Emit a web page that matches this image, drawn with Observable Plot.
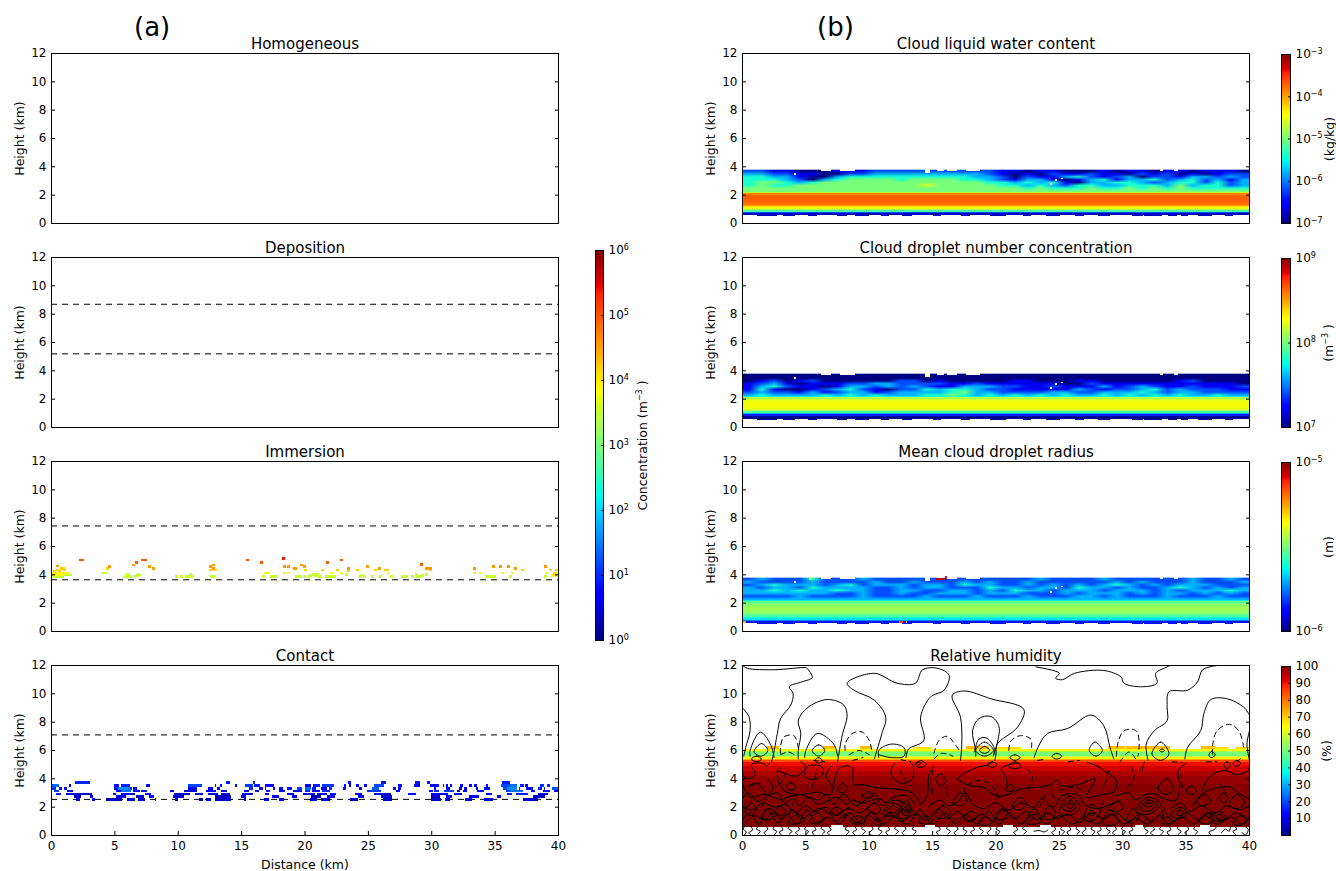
<!DOCTYPE html>
<html><head><meta charset="utf-8">
<script src="https://cdn.jsdelivr.net/npm/d3@7"></script>
<script src="https://cdn.jsdelivr.net/npm/@observablehq/plot@0.6"></script>
<style>
html,body{margin:0;background:#fff}
#fig{position:relative;width:1336px;height:871px;overflow:hidden;font-family:"DejaVu Sans",sans-serif;color:#000}
#fig>div{position:absolute}
#fig svg{display:block;overflow:visible;background:transparent;max-width:none!important}
.tag{font-size:26px;line-height:30px}
</style></head><body><div id="fig"></div>
<script>
// ---------- tick labels ----------
const heightTicks=[0,2,4,6,8,10,12];
const distanceTicks=[0,5,10,15,20,25,30,35,40];
const concTicks=[1,10,100,1e3,1e4,1e5,1e6];
const concLabels=["10⁰","10¹","10²","10³","10⁴","10⁵","10⁶"];
const lwcTicks=[1e-7,1e-6,1e-5,1e-4,1e-3];
const lwcLabels=["10⁻⁷","10⁻⁶","10⁻⁵","10⁻⁴","10⁻³"];
const numTicks=[1e7,1e8,1e9];
const numLabels=["10⁷","10⁸","10⁹"];
const radTicks=[1e-6,1e-5];
const radLabels=["10⁻⁶","10⁻⁵"];
const rhTicks=[10,20,30,40,50,60,70,80,90,100];

// ---------- dashed levels (km) ----------
const depositionLevels=[8.7,5.2];
const immersionLevels=[7.45,3.65];
const contactLevels=[7.1,2.55];

// ---------- immersion cells [x km, height km] by concentration ----------
const immersionLime=[[.1,3.85],[.3,3.85],[.5,3.85],[.7,3.85],[.9,3.85],[1.1,3.95],[1.3,3.95],[1.5,3.95],[4.1,4.1],[4.3,4.1],[5.9,3.85],[6.0,4.0],[6.1,3.85],[6.3,3.85],[6.6,3.85],[6.8,3.9],[6.9,4.0],[7.0,3.95],[9.9,3.85],[10.3,3.85],[10.7,3.85],[10.9,3.85],[11.0,4.0],[11.2,3.85],[12.65,3.85],[12.9,3.85],[16.75,3.85],[17.4,3.85],[17.6,3.85],[17.8,3.85],[19.35,3.85],[19.5,3.85],[19.65,3.85],[20.0,3.85],[20.4,3.85],[20.5,3.9],[20.7,4.0],[20.9,3.9],[21.0,4.0],[21.2,3.85],[21.3,3.85],[21.7,3.85],[21.9,3.85],[22.1,3.85],[22.4,3.85],[23.3,4.0],[24.4,3.85],[24.5,3.95],[24.7,3.85],[25.4,3.85],[26,3.85],[26.9,3.85],[27.7,3.85],[27.9,3.85],[28.05,3.85],[28.5,3.85],[28.8,4.0],[28.9,3.85],[29.1,3.85],[29.3,3.9],[29.6,4.0],[34.35,3.85],[34.6,3.85],[34.8,3.85],[35.0,3.85],[36.25,3.85],[39,3.85]];
const immersionYellow=[[.1,4.1],[.3,4.1],[.5,4.1],[.8,4.1],[1.0,4.1],[1.2,4.1],[.2,3.95],[.4,3.95],[.6,4.0],[.8,3.95],[.9,3.95],[1.4,4.1],[16.9,4.1],[17.15,4.1],[18.45,4.1],[18.75,4.1],[22.1,4.1],[22.95,4.1],[26.65,4.1],[33.4,4.1],[33.9,4.1],[35.6,4.1],[36.4,4.1],[39.1,4.1],[39.6,3.9],[39.8,4.1],[39.9,3.9]];
const immersionGold=[[.5,4.3],[.8,4.4],[1.1,4.3],[.3,4.25],[1.0,4.4],[.7,4.25],[4.45,4.4],[12.6,4.3],[12.95,4.3],[20.05,4.3],[21.4,4.3],[22.6,4.3],[23.45,4.25],[24.2,4.3],[25.6,4.3],[26.55,4.3],[26.4,4.3],[29.95,4.3],[37.2,4.3],[39.4,4.3],[39.9,4.3],[39.7,4.0]];
const immersionOrange=[[.55,4.6],[4.6,4.55],[6.5,4.65],[7.8,4.55],[8.1,4.4],[12.6,4.55],[12.85,4.65],[12.85,4.4],[18.45,4.55],[18.7,4.55],[19.25,4.4],[19.75,4.65],[20,4.55],[23.45,4.4],[25,4.55],[25.9,4.4],[29.6,4.4],[29.9,4.4],[33.4,4.4],[34.9,4.55],[35.5,4.55],[36.1,4.55],[36.65,4.4],[39,4.55]];
const immersionRed=[[2.35,5.0],[2.5,5.0],[6.75,4.85],[7.25,5.0],[7.45,5.0],[15.5,5.0],[16.6,4.85],[21.8,4.85],[22.9,5.0],[29.25,4.7]];
const immersionDeepRed=[[18.35,5.1]];

// ---------- contact runs [x1 km, x2 km, concentration], one list per height row ----------
const contact37=[[1.9,3.1,9],[13.8,14.1,8],[15.9,16.1,8],[23.4,23.7,6],[26,26.4,8],[28.7,29.1,8],[29.7,29.9,8],[35.6,36.2,8]];
const contact35=[[0,.6,22],[1.4,1.6,6],[5,5.4,6],[5.5,6.2,9],[7.5,7.8,5],[10.8,11.9,14],[12.9,13,6],[13.3,13.5,6],[14.5,14.7,6],[15.3,15.9,12],[16,16.5,8],[16.9,17.6,6],[20,20.5,6],[20.7,21.2,8],[21.4,22.3,12],[23.1,23.3,6],[23.5,23.7,6],[24.1,24.3,6],[24.7,24.9,6],[25.5,26.3,15],[27.4,27.7,6],[28.6,29.1,6],[29.9,30.6,6],[30.9,31,6],[31.2,31.3,6],[31.5,31.6,6],[32.3,32.5,6],[33,33.2,6],[33.4,33.6,6],[34.3,34.5,6],[35.5,36.2,14],[36.2,36.8,25],[37,37.3,8],[37.4,37.6,6],[38.6,38.9,10],[39.1,39.4,10]];
const contact33=[[0,.4,12],[.6,.9,6],[1,1.3,6],[5,5.3,6],[5.3,6.2,35],[6.2,6.4,10],[6.5,6.8,6],[10.8,11.5,5],[12.4,12.8,5],[13.1,13.3,5],[15.6,15.9,10],[16.4,16.7,6],[16.9,17,6],[17.5,17.7,6],[18,18.3,6],[18.6,19,6],[19.4,19.8,14],[20,20.5,22],[20.6,20.9,8],[21.3,21.8,5],[21.9,22.2,10],[23,23.3,6],[24.3,24.5,6],[25.3,25.9,20],[27,27.2,5],[27.4,27.6,5],[30.2,30.4,6],[31.2,31.5,6],[32.2,32.4,6],[32.6,32.8,6],[33.5,33.7,6],[34.2,34.6,6],[35.7,36,15],[36,36.8,40],[36.9,37,8],[37.5,38,6],[38.4,38.7,8],[38.9,39,8],[39.5,40,18]];
const contact31=[[.2,.6,14],[1.3,1.7,5],[5.1,5.5,5],[5.5,6.3,25],[6.5,7,6],[7.1,7.6,8],[9.4,9.7,3],[10.5,11.5,3],[12.2,13,4],[13.4,13.9,4],[15.2,15.6,5],[16.1,16.4,6],[17,17.3,6],[18,18.5,6],[19.1,19.8,6],[20,20.4,10],[20.6,21.2,6],[21.4,22,10],[24.9,26,12],[27.2,27.5,5],[29.8,30.1,6],[30.2,30.6,10],[31,31.8,12],[32,32.3,5],[32.5,32.8,5],[33.6,34.2,5],[35.9,36.2,12],[36.2,37.2,25],[37.9,38.2,5],[38.8,39.4,6],[39.7,40,6]];
const contact29=[[.4,.8,8],[1.2,2,3],[2,3.2,2.5],[4.9,5.1,6],[5.5,6.2,6],[6.2,6.6,3],[7.4,7.9,6],[9.7,11,2.5],[11.4,12,2.5],[12.4,13.2,3],[13.4,14.1,2.5],[15.1,15.9,3],[16.9,17.2,5],[18.6,19.2,5],[19.9,20.8,3],[21,21.8,3],[22,22.5,5],[24,24.5,4],[25.5,26.8,3],[28.2,28.8,5],[30,31.3,4],[31.8,32.4,4],[34.3,34.8,5],[36,36.4,8],[36.7,37.6,8],[38.4,39.2,3]];
const contact27=[[1.8,2.4,2.5],[3.1,3.3,5],[5.1,5.9,3],[6.7,7.3,2.5],[7.7,8.1,4],[9.6,9.9,2.5],[9.9,10.5,2.5],[12.9,13.7,2.2],[13.7,14.2,2.2],[15,15.4,3],[17.4,18,4],[19,19.4,5],[20.5,21.3,2.2],[21.8,22.4,4],[24.2,24.7,4],[26,26.9,2.5],[30,30.7,2.5],[31.2,31.6,4],[33,33.8,4],[35.2,35.5,4],[38,39,2.5]];
const contact25=[[2,2.3,3],[3.2,3.5,4],[4.3,5.6,2.2],[6,6.6,3],[6.9,7.4,2.5],[8.2,8.3,4],[9.8,10,3],[11.7,12,2.5],[12.2,12.6,2.2],[12.9,14.2,2.2],[15.2,15.4,4],[16.8,17.2,3],[18,18.4,4],[20.4,21,2.5],[21.3,22,2.5],[23.6,24.2,2.5],[26.2,26.9,2.5],[30,30.8,2.5],[31.1,31.5,4],[32.7,33.2,3],[34.2,34.9,3],[37.2,38.4,2.5]];

// ---------- cloud layers: upper part, one digit per km (colour fraction x10), rows top to bottom, 3.8 to 2.2 km ----------
const lwcUpper=[
"2211000111222222222211011000101101101110",
"3322110022333333333210102112110212010122",
"4433100344444444443320211342123022133232",
"4443203455554555544321331013413342342313",
"4554345555555555555443434103344323442423",
"4544555555555565555544343244334443534423",
"5555555555555555555555454445445454544444",
"5555555555555555555555555555555555555555"];
const numUpper=[
"0000000000000000000000000000000000000000",
"0000000000000000000000000000000000000000",
"0120120000002201000001100011000000120000",
"1231011122332222112111111002111111111110",
"1342110133232321133322112111312321121112",
"1410012342102243443221111132122342322211",
"2322131233123333453322223322333432332222",
"3433334343433344543434343433434343433433"];
const radUpper=[
"2322242223222222222222232222322222232232",
"3222232222322322232322322222232322232223",
"2343332342333233243322323232343232333222",
"3233243333223233222433233243323223432323",
"3343433433223322332324332333233323233343",
"3333333223223223332333222323332323323232",
"2222322223222232223222322233232223222322",
"3333333333333333333333333333333333333333"];
// lower part, colour fraction x10 per 0.1 km row, 0.6 to 2.2 km
const lwcLower=[.6,2,4.5,5.5,6.2,6.9,7.5,8,8.1,8.2,8.2,8.2,8.2,8.1,7.8,6.6];
const numLower=[.1,.3,1.5,3,4.5,5.5,6,6.2,6.3,6.3,6.3,6.3,6.2,6,5.5,4];
const radLower=[1.4,2.5,3.5,4,4.5,4.8,5,5.3,5.4,5.4,5.4,5.3,5.2,5,4.7,4];
// white notches in the cloud top [x1,x2,lower height]
const topNotches=[[6.2,7,3.65],[7.7,8.9,3.7],[14.4,14.8,3.5],[15.4,15.9,3.65],[16.2,17,3.65],[17.7,18.8,3.65],[33,33.2,3.65],[34.1,34.4,3.65]];
// cloud base cells below 0.6 km [x1,x2]
const baseBumps=[[1.2,2.8],[3.2,4.2],[5.2,5.9],[7.5,8.3],[8.9,10],[11,11.6],[12.6,13.4],[15.1,15.7],[17.3,18],[19.6,20.8],[22.2,22.8],[24,25.1],[26.3,27],[28.1,29],[30.8,31.6],[31.7,33.1],[33.6,34.3],[34.6,35.2],[36,37.1],[38.1,38.7]];
const specks=[[4.1,3.4],[24.7,3],[25.2,3.1],[24.3,2.7]];
// warm cells in the radius panel [x1,x2,y1,y2,colour fraction]
const radiusHot=[[15.3,16.1,3.6,3.75,.95],[16,16.2,3.75,3.85,.9],[.1,.3,.55,.7,.75],[12.4,12.7,.55,.7,.85],[12.9,13,.55,.7,.7],[5.3,5.5,3.6,3.8,.55]];

// ---------- relative humidity layers [lower km, upper km, %] ----------
const rhLayers=[[.6,3.6,99.5],[3.6,4.2,98],[4.2,4.5,96],[4.5,4.9,93],[4.9,5.15,90],[5.15,5.3,84],[5.3,5.4,74],[5.4,5.5,65],[5.5,5.6,58],[5.6,5.85,50],[5.85,5.95,56],[5.95,6.1,65]];
const rhTopPatches=[[2,2.9],[6.4,7.3],[9.3,10.2],[17.7,19.5],[28.9,30.2],[30.3,33.8],[36.2,37.3]];
const rhTopLightPatches=[[13.5,15],[20,22],[37.3,38.4],[38.9,40]];
const rhBaseGaps=[[7,8],[14.4,15.2],[20.6,21.4],[23.5,24.4],[31,31.6],[36.1,36.9]];

// ---------- contour lines [x km, height km] ----------
const contourOpen=[
[[0,12],[.4,11.8],[2.5,11.7],[5,11.85],[5.1,11.8],[5.5,11.15],[4.7,10.85],[3.7,10.5],[4,10],[3.8,9.2],[3,8.25],[2.75,7.2],[2.5,6],[2.3,5.2]],
[[0,9],[.5,8.4],[.6,7.4],[.25,6.2],[.1,5.6]],
[[4.4,5.4],[4.4,6],[4.6,7.2],[4.4,8.1],[5.1,9],[6.7,9.6],[8,9.2],[8.25,8.4],[7.9,7.2],[7.6,5.75],[7.5,5.2]],
[[10.4,5.4],[10.6,6],[11,7.2],[11.3,8.35],[10.4,9.55],[8.8,10.25],[8.25,10.75],[10.4,11.45],[12.2,10.75],[13.65,10.75],[14.2,11.7],[15.4,11.8],[16.3,11.3],[15.9,10.25],[14.85,9.8],[14.05,8.35],[14.3,6.7],[13.1,6.1],[12.9,5.5]],
[[17.2,5.3],[17.3,6.45],[17.2,8.35],[16.55,9.9],[17.5,10.2],[19.6,9.65],[22.2,8.9],[21.7,7.65],[20.1,6.45],[20,5.75],[19.9,5.3]],
[[18.4,5.6],[18.4,6],[18.15,7.4],[18.65,8.25],[19.6,8.4],[20.25,7.65],[19.85,5.75]],
[[18.3,5.9],[18.65,6.8],[19.2,6.9],[19.85,6.2],[19.8,5.6]],
[[.6,5.6],[.6,6],[1.4,7.3],[2.2,6.45],[2.5,5.5]],
[[4.9,5.5],[5,6],[5.9,7.2],[7.2,6.45],[7.5,5.6]],
[[10.75,5.5],[10.75,6],[11.7,6.45],[12.75,6.2],[12.75,5.6],[11.7,5.5],[10.75,5.7]],
[[23.15,11.9],[25,11.45],[24.7,11.1],[25.25,11],[26.2,11.45],[28.5,11.65],[29.85,11.2],[30.1,10.75],[31.4,10.5],[32.7,10.75],[32.6,11.45],[33.5,11.9],[33.7,12]],
[[37.45,12],[36.3,11.7],[35.9,10.85],[35.1,10.25],[33.65,10.15],[33.5,9.1],[33.5,8.1],[32.5,7.4],[31.85,6.45],[32,5.3]],
[[23,5.5],[23.3,6.2],[24.05,7.2],[25.65,7.55],[27.5,8.5],[28.5,7.75],[29,6.2],[29.3,5.4]],
[[34.9,5.4],[35.1,6.2],[36.15,7.4],[36.4,8.6],[36.95,9.6],[38.25,9.65],[39.55,9.05],[40,8.5]],
[[40,7.4],[39.8,6.45],[40,5.3]],
[[2.75,4.6],[2.9,3.6],[3.5,3.05],[4.6,2.9],[5.9,3.05],[6.95,2.9],[7.2,3.6],[7.5,4.6],[8,4.9],[8.65,4.8],[8.8,3.6],[9.45,3.6],[10.4,3.4],[11.7,3.3],[13,3.15],[13.8,2.7],[14.05,2.2],[14.6,2.9],[14.7,4.3],[15.1,4.9]],
[[2.75,4.6],[4.3,4.2],[5,4.9],[4.6,5.2]],
[[0,3.6],[.65,2.7],[1.7,2.9],[3,2.55],[3.5,2.7],[4.8,2.85],[5.5,2.5],[6,2.2],[7.5,2.7],[8.2,2.2],[8.7,2.5],[9.5,2.3],[10.8,2.6],[11.3,2.3],[12,2.5],[13,2.2],[13.5,1.7],[14,1.4]],
[[0,4.3],[.4,4],[1,4.3],[.7,5],[1.6,5.1],[1.9,4.9],[2.1,5.1]],
[[16.9,4],[17.5,4.4],[18.5,4.8],[19.4,5],[19.7,5.2]],
[[16.9,4],[18,3.5],[19,3.4],[20,2.8],[21,2.9],[22,3.3],[23.3,3.4],[24.3,3.6],[24.8,3.9],[25.3,3.5],[26.5,3.6],[27.8,4],[27.6,3.5],[27.1,2.7],[28.5,2.9],[29.3,3.1],[29.5,3.9],[28.8,4.4],[28,4.9],[27.2,5.15]],
[[20.9,3.3],[20.8,4.1],[20.4,4.7],[21,5],[21.8,5.1]],
[[29.5,2.8],[30.5,3],[31,2.5],[31.8,2.9],[32.7,2.9],[33.2,2.6],[34.2,2.5],[34.5,3.4],[34.4,4.6],[35,5.1]],
[[31.5,4.5],[31.7,5.2]],
[[36.3,3.2],[36.8,4.1],[38,4.6],[39,4.3],[39.9,4.6],[40,5]],
[[35.5,2.1],[36.2,2.9],[36.8,3.2],[37.7,3.4],[38.5,3.4],[39.3,2.9],[40,2.6]],
[[.3,.9],[1,1.4],[1.7,1.1],[2.4,1.6],[3.1,1.2],[4,1.8],[4.6,1.2],[5.3,1.5],[6,1.9],[6.9,1.5],[7.4,1],[8.1,1.5],[9,.9],[9.9,1.4],[10.8,1],[11.5,1.6],[12.5,1],[13.6,1.5],[14.5,1.1],[15.5,1.9],[16.2,1.2],[17,1.7],[17.8,1],[18.9,1.5],[19.8,1],[20.5,1.8],[21.5,1.2],[22.4,1.7],[23.2,1.1],[24.1,1.6],[24.8,1.2],[25.7,1.5],[26.6,.9],[27.5,1.6],[28.5,1.2],[29.5,1.6],[30.4,1],[31.4,1.5],[32.3,1],[33.2,1.7],[34,1],[35,1.6],[36,1.1],[36.9,1.6],[37.9,1],[38.9,1.6],[40,1.1]],
[[0,2],[.8,1.8],[1.6,2.3],[2.5,2],[3.4,2.2],[4.2,1.6],[5,2.1],[5.7,1.7],[6.6,2],[7.3,1.5],[8.4,1.9],[9.2,1.6],[10.1,2.1],[10.5,2.4]],
[[14.7,2.1],[15.6,2.5],[16.3,2.1],[17,2.4],[17.6,3],[18.2,2.2],[19,1.9],[20,2.3],[21,1.8],[22,2.3],[23,2],[23.6,2.6],[24.5,2],[25.2,2.8],[26.4,2.9],[27,2.2],[27.9,1.9],[28.8,2.1],[29.8,2.5]],
[[33.8,1.9],[34.6,2.3],[35.3,1.7],[36.2,2.1],[37.3,1.6],[38.2,2.1],[39.2,1.8],[40,2.1]],
[[0,1.1],[.6,1.6],[1.3,.8],[1.9,1.9],[2.8,.9],[3.5,1.5],[4.3,.8],[5.1,1.8],[5.8,.9],[6.7,1.3],[7.6,.8],[8.5,1.6],[9.4,.8],[10.2,1.7],[11,.8],[12,1.3],[13,.8],[14,1.8],[15,.8],[16,1.6],[16.8,.8],[17.6,1.5],[18.5,.8],[19.4,1.7],[20.2,.8],[21.1,1.6],[22,.8],[23,1.9],[24,.8],[25,1.4],[26,.8],[27,1.3],[28,.8],[29,1.8],[30,.8],[31,1.2],[32,.8],[32.9,1.4],[33.7,.8],[34.7,1.3],[35.6,.8],[36.5,1.4],[37.4,.8],[38.5,1.3],[39.4,.8],[40,1.3]],
[[0,2.6],[.5,3],[1.2,2.4],[2,2.8],[2.8,3],[3.3,2.3],[4,2.6],[4.5,2.1],[5.2,2.7],[6,2.5],[6.6,2.9],[7.2,2.2],[8,2.9],[8.9,2.1],[9.8,2.6],[10.4,3],[11,2.1],[11.9,2.7],[13,2.8],[13.6,2.2]],
[[2,4],[2.4,3.4],[2,2.9],[1.5,3.4],[1,3.7],[.4,3.4]],
[[7.2,3.4],[6.6,4.2],[7,4.9]],[[12,5.1],[11.7,4.4],[12.4,3.7],[13.3,3.9],[13.5,4.8],[13.2,5.2]]
];
const contourDashed=[
[[8.1,6],[8.1,6.45],[8.65,7.2],[9.45,7.3],[10,6.7],[10.2,6]],
[[3,5.8],[3,6.2],[3.25,6.95],[4.05,7.05],[4.4,6.2]],
[[15.1,5.8],[15.5,6.7],[16.15,7],[17.1,6]],
[[21,6],[21.2,6.7],[21.95,7.05],[22.75,6.8],[22.8,6.2]],
[[29.5,5.6],[29.6,6.45],[30.1,7.4],[31.05,7.4],[31.3,6.45],[31.2,5.6]],
[[37.1,5.7],[37.1,6.45],[37.45,7.4],[38.4,7.85],[39.15,7.4],[39.55,6.2]],
[[3,5.7],[3.6,5.9],[4.1,5.7]],[[8.4,5.7],[9.2,6],[10,5.7]],
[[15.1,5.4],[15.7,5.8],[16.6,5.6]],[[29.8,5.2],[30.5,5.9],[31.1,5.3]],
[[2.9,3.6],[3.3,4.2],[2.9,4.8]],[[5.5,3.4],[5.9,4.7]],[[12.4,4.6],[12.9,3.9],[13.3,3.5]],
[[15,3],[14.9,3.7],[15,4.6]],[[18,2.5],[17.5,3.3],[18.7,3.9],[19.7,3.5],[20.2,2.6]],
[[22.5,3.3],[22.9,4.1],[22.4,4.8]],[[28.6,3.6],[28.9,4.6]],[[30.4,3.4],[30.9,4.1],[30.6,5]],
[[33,3.1],[32.6,3.5]],[[34.7,3.4],[34.6,4.3]],[[38.2,3],[37.6,3.7]],
[[.6,3.5],[1.4,3.7]],[[1.8,1],[2.2,1.6]],[[6.3,1],[6.8,1.4]],[[11.2,1.2],[11.7,1.7]],[[16.6,1],[17,1.3]],[[22.7,1],[23.2,1.6]],[[26.8,1.2],[27.2,1.7]],[[31.7,1],[32,1.4]],[[36.8,1.2],[37.2,1.7]],
[[23.4,2],[24,3]],[[25,3.2],[26.4,3.4],[26.9,3]],[[39,5.2],[39.5,5.6]],
[[5.6,5.3],[6.5,5.2]],[[8.7,5.3],[9.5,5.5]],[[12.5,5.35],[13.3,5.2]],[[23.3,5.3],[24,5.4]],[[25.7,5.2],[26.6,5.3]],[[33.9,5.2],[34.7,5.15]],[[36.6,5.2],[37.4,5.2]],
[[1.5,2],[1.9,2.6]],[[3.7,1.5],[4,2.3]],[[8,1.2],[8.4,2]],[[9.1,2.1],[9.5,2.9]],[[16.2,2.7],[16.1,3.4]],[[24.6,2.6],[24.2,3.2]],[[28.2,1.6],[28.5,2.4]],[[33.1,1.2],[33.3,1.9]]
];
const contourLoops=[
[[18.4,6],[19.1,6.6],[19.8,6],[19.1,5.6]],[[18.7,6],[19.1,6.3],[19.5,6],[19.1,5.8]],
[[.9,5.9],[1.5,6.5],[2,6],[1.5,5.6]],[[5.5,6],[6,6.4],[6.5,6],[6,5.6]],
[[27.35,6],[27.8,6.6],[28.4,6],[27.9,5.6]],[[32.3,5.75],[33,6.6],[33.65,5.75],[33,5.3]],[[32.9,6],[33.1,6.1],[33.3,6],[33.1,5.9]],
[[36.8,5.65],[37,5.95],[37.3,5.7],[37,5.5]],[[38,5],[38.2,5.2],[38.5,5],[38.2,4.7]],
[[5,4.1],[5.9,4],[6.4,4.55],[6.2,4.9],[5.1,4.85]],[[3.5,3.5],[3.8,3.75],[4.2,3.4],[3.8,3.2]],
[[15.25,4],[15.65,4.35],[16.05,3.85],[15.65,3.5]],[[13.6,5],[14.1,5.3],[14.5,5],[14,4.8]],
[[32.8,3.4],[33.5,4],[34,3.2],[33.3,2.9]],[[35.8,2.4],[36.5,2.9],[36.9,2.4],[36.3,2.1]],[[37.6,2.7],[38,3],[38.3,2.6],[38,2.3]],
[[19.3,5],[19.7,5.2],[20.1,5],[19.7,4.8]],[[21,4.9],[21.5,5.2],[22,4.9],[21.5,4.7]],
[[11.1,1.5],[11.8,2.3],[12.6,1.9],[12,1.4]],[[11.4,1.7],[11.9,2.1],[12.3,1.8],[11.9,1.6]],
[[12.3,1.3],[12.9,2.5],[13.3,1.9],[12.9,1.2]],[[12.6,1.6],[12.9,2.1],[13.1,1.7],[12.9,1.4]],[[12.8,1.7],[12.9,1.9],[13,1.8],[12.9,1.6]],
[[25,1.6],[25.8,2.8],[26.6,2],[25.8,1.4]],[[25.3,1.9],[25.9,2.5],[26.3,2],[25.8,1.7]],[[25.6,2.1],[25.9,2.3],[26.1,2.1],[25.9,1.9]],
[[26.9,1.2],[27.5,2.2],[28.2,1.7],[27.5,1]],[[27.3,1.5],[27.5,1.8],[27.8,1.6],[27.5,1.4]],
[[31,1.7],[32,2.7],[33,2.2],[32,1.5]],[[31.4,1.9],[32,2.5],[32.7,2.2],[32,1.7]],[[31.7,2.1],[32,2.3],[32.4,2.2],[32,2]],
[[30.3,1],[30.8,1.9],[31.3,1.4],[30.8,.9]],[[33.8,1.4],[34.5,2],[35.1,1.6],[34.5,1.2]],[[34.2,1.5],[34.5,1.8],[34.8,1.6],[34.5,1.4]],
[[36,1],[36.7,1.6],[37.2,1.1],[36.6,.8]],[[37,1.2],[37.6,1.7],[38.1,1.3],[37.6,1]],[[37.3,1.3],[37.6,1.5],[37.9,1.3],[37.6,1.1]],
[[.2,1.7],[.7,2.3],[1.1,1.8],[.6,1.4]],[[1.5,1.3],[2.1,1.9],[2.7,1.5],[2,1.1]],[[2.6,1.7],[3,2.1],[3.4,1.7],[3,1.4]],
[[3.6,.9],[4.3,1.5],[4.9,1.1],[4.2,.8]],[[5.3,1],[5.9,1.6],[6.4,1.2],[5.9,.8]],[[6.9,1.6],[7.4,2],[7.9,1.7],[7.4,1.4]],
[[8.5,1],[9.1,1.4],[9.7,1],[9,.8]],[[9.9,1.9],[10.4,2.3],[10.9,1.8],[10.4,1.5]],[[10.3,.9],[10.7,1.2],[11,.9],[10.7,.7]],
[[13.9,1],[14.5,1.4],[15,1],[14.4,.8]],[[15.2,1.4],[15.8,2.1],[16.4,1.6],[15.8,1.2]],[[16.6,2.3],[17.2,3],[17.7,2.5],[17.2,2.1]],
[[17.5,1.3],[18,1.7],[18.6,1.4],[18,1]],[[18.6,.9],[19.2,1.3],[19.7,1],[19.2,.7]],[[19.9,1.3],[20.5,1.9],[21.1,1.4],[20.4,1.1]],
[[21.3,2],[21.9,2.7],[22.4,2.2],[21.8,1.8]],[[22.3,.9],[23,1.5],[23.6,1],[23,.8]],[[23.8,1.3],[24.2,2.1],[24.7,1.5],[24.2,1.1]],
[[28.4,.9],[29,1.5],[29.7,1],[29,.7]],[[28.9,1.9],[29.6,2.4],[30.1,2],[29.5,1.7]],[[33,1],[33.5,1.3],[33.9,1],[33.4,.8]],
[[38.4,2.1],[39,2.9],[39.6,2.3],[39,1.9]],[[38.7,.9],[39.3,1.4],[39.8,1],[39.2,.7]],[[35,3.2],[35.4,3.5],[35.8,3.1],[35.4,2.9]],
[[20.7,3.3],[21.1,3.6],[21.5,3.3],[21.1,3.1]],[[7.5,3.2],[7.9,3.7],[8.3,3.3],[7.9,3]],[[9.5,2.8],[9.9,3.1],[10.3,2.8],[9.9,2.6]],
[[13.7,5.1],[13.9,5.2],[14.1,5.1],[13.9,5]],[[5.7,5.3],[6,5.5],[6.3,5.3],[6,5.1]],[[.7,5.4],[1.1,5.6],[1.5,5.4],[1.1,5.2]],[[21.1,5.5],[21.5,5.7],[21.9,5.5],[21.5,5.3]],[[24.4,5.6],[24.8,5.8],[25.2,5.6],[24.8,5.4]],[[38.7,5.1],[39,5.3],[39.3,5.1],[39,4.9]]
];
const contourBase=[
[[.1,0],[.3,.25],[.05,.45],[.2,.7]],[[.7,0],[.5,.2],[.8,.4],[.6,.7]],[[1.2,.1],[1.4,.3],[1.1,.45],[1.3,.7]],[[1.9,0],[1.7,.2],[2,.45],[1.8,.7]],[[2.5,.05],[2.7,.3],[2.4,.45],[2.6,.7]],[[3.1,0],[2.9,.25],[3.2,.4],[3,.7]],[[3.7,.1],[3.9,.3],[3.6,.5],[3.8,.7]],[[4.4,0],[4.2,.2],[4.5,.45],[4.3,.7]],[[5,.05],[5.2,.3],[4.9,.45],[5.1,.7]],[[5.7,0],[5.5,.25],[5.8,.4],[5.6,.7]],[[6.3,.1],[6.5,.3],[6.2,.5],[6.4,.7]],[[6.9,0],[6.7,.2],[7,.4],[6.8,.6]],
[[8.2,.05],[8.4,.3],[8.1,.45],[8.3,.7]],[[8.9,0],[8.7,.25],[9,.4],[8.8,.7]],[[9.5,.1],[9.7,.3],[9.4,.5],[9.6,.7]],[[10.2,0],[10,.2],[10.3,.45],[10.1,.7]],[[10.8,.05],[11,.3],[10.7,.45],[10.9,.7]],[[11.5,0],[11.3,.25],[11.6,.4],[11.4,.7]],[[12.1,.1],[12.3,.3],[12,.5],[12.2,.7]],[[12.8,0],[12.6,.2],[12.9,.45],[12.7,.7]],[[13.5,.05],[13.7,.3],[13.4,.45],[13.6,.7]],
[[15.5,0],[15.3,.25],[15.6,.4],[15.4,.7]],[[16.2,.1],[16.4,.3],[16.1,.5],[16.3,.7]],[[16.9,0],[16.7,.2],[17,.45],[16.8,.7]],[[17.5,.05],[17.7,.3],[17.4,.45],[17.6,.7]],[[18.2,0],[18,.25],[18.3,.4],[18.1,.7]],[[18.8,.1],[19,.3],[18.7,.5],[18.9,.7]],[[19.5,0],[19.3,.2],[19.6,.45],[19.4,.7]],[[20.1,.05],[20.3,.3],[20,.45],[20.2,.7]],
[[21.6,0],[21.4,.25],[21.7,.4],[21.5,.7]],[[22.2,.1],[22.4,.3],[22.1,.5],[22.3,.7]],[[23,.3],[23.4,.35],[23.8,.25],[24.1,.4]],[[24.6,0],[24.4,.2],[24.7,.45],[24.5,.7]],[[25.2,.05],[25.4,.3],[25.1,.45],[25.3,.7]],[[25.8,0],[25.6,.25],[25.9,.4],[25.7,.7]],[[26.4,.1],[26.6,.3],[26.3,.5],[26.5,.7]],[[27,0],[26.8,.2],[27.1,.45],[26.9,.7]],[[27.6,.05],[27.8,.3],[27.5,.45],[27.7,.7]],[[28.2,0],[28,.25],[28.3,.4],[28.1,.7]],[[28.8,.1],[29,.3],[28.7,.5],[28.9,.7]],[[29.4,0],[29.2,.2],[29.5,.45],[29.3,.7]],[[30,.05],[30.2,.3],[29.9,.45],[30.1,.7]],[[30.7,0],[30.5,.25],[30.8,.4],[30.6,.7]],
[[31.8,.1],[32,.3],[31.7,.5],[31.9,.7]],[[32.4,0],[32.2,.2],[32.5,.45],[32.3,.7]],[[33,.05],[33.2,.3],[32.9,.45],[33.1,.7]],[[33.7,0],[33.5,.25],[33.8,.4],[33.6,.7]],[[34.4,.1],[34.6,.3],[34.3,.5],[34.5,.7]],[[35.1,0],[34.9,.2],[35.2,.45],[35,.7]],[[35.7,.05],[35.9,.3],[35.6,.45],[35.8,.7]],[[37,0],[36.8,.25],[37.2,.4],[37.4,.65]],[[37.8,.2],[38.1,.45],[38.4,.3],[38.5,.6]],[[38.9,.05],[38.7,.3],[39,.45],[38.8,.7]],[[39.4,.2],[39.7,.05],[39.9,.45],[39.6,.65]]
];

// ---------- helpers ----------
const fig=document.getElementById("fig");
const jetStops=[[0,0,0,.5],[.11,0,0,1],[.125,0,0,1],[.34,0,.86,1],[.35,0,.9,.97],[.375,.0,1,.9],[.64,1,1,0],[.66,1,.95,0],[.89,1,.12,0],[.91,.9,0,0],[1,.5,0,0]];
const jet=t=>{t=Math.max(0,Math.min(1,t));let i=1;while(i<jetStops.length-1&&jetStops[i][0]<t)i++;const a=jetStops[i-1],b=jetStops[i],f=(t-a[0])/((b[0]-a[0])||1),c=k=>Math.round(255*(a[k]+(b[k]-a[k])*f));return `rgb(${c(1)},${c(2)},${c(3)})`;};
const concColor={type:"log",domain:[1,1e6],interpolate:jet,clamp:true};
const lwcColor={type:"log",domain:[1e-7,1e-3],interpolate:jet,clamp:true};
const numColor={type:"log",domain:[1e7,1e9],interpolate:jet,clamp:true};
const radColor={type:"log",domain:[1e-6,1e-5],interpolate:jet,clamp:true};
const rhColor={type:"linear",domain:[0,100],interpolate:jet,clamp:true};
const W=507,H=170,FS=12;
// raise the superscripts of tick and axis labels as real text
const supMap={"⁰":"0","¹":"1","²":"2","³":"3","⁴":"4","⁵":"5","⁶":"6","⁷":"7","⁸":"8","⁹":"9","⁻":"\u2212"};
function raiseSuperscripts(svg){
  svg.querySelectorAll("text").forEach(t=>{
    const holder=t.querySelector("tspan")||t;
    const s=holder.textContent;
    if(!/[⁰¹²³⁴-⁹⁻]/.test(s)||holder.children.length)return;
    const parts=s.match(/[⁰¹²³⁴-⁹⁻]+|[^⁰¹²³⁴-⁹⁻]+/g);
    holder.textContent="";
    let raised=false;
    parts.forEach(p=>{
      const sp=document.createElementNS("http://www.w3.org/2000/svg","tspan");
      const isSup=/[⁰¹²³⁴-⁹⁻]/.test(p);
      sp.textContent=isSup?[...p].map(c=>supMap[c]).join(""):p;
      if(isSup){sp.setAttribute("dy","-4.5");sp.setAttribute("font-size","8");raised=true;}
      else if(raised){sp.setAttribute("dy","4.5");raised=false;}
      holder.appendChild(sp);
    });
  });
}
function place(svg,l,t){const d=document.createElement("div");d.style.left=l+"px";d.style.top=t+"px";raiseSuperscripts(svg);d.appendChild(svg);fig.appendChild(d);}
function tag(s,x){const d=document.createElement("div");d.className="tag";d.textContent=s;d.style.left=x+"px";d.style.top="12px";fig.appendChild(d);}
function panel({left,top,title,color,marks=[],xAxis=false}){
  const mt=30,mb=40;
  const svg=Plot.plot({width:51+W+15,height:mt+H+mb,marginLeft:51,marginRight:15,marginTop:mt,marginBottom:mb,
    style:{fontFamily:'"DejaVu Sans"',fontSize:FS+"px",color:"#000",background:"transparent",overflow:"visible"},
    x:{domain:[0,40],axis:null,label:null},y:{domain:[0,12],axis:null,label:null},color,
    marks:[...marks,
      Plot.frame({stroke:"#000",strokeWidth:1}),
      Plot.axisY({ticks:heightTicks,tickSize:-4,tickPadding:9,label:null,anchor:"left",fontSize:FS}),
      Plot.axisY({ticks:heightTicks,tickSize:-4,tickFormat:()=>"",label:null,anchor:"right"}),
      ...(xAxis?[Plot.axisX({ticks:distanceTicks,tickSize:-4,tickPadding:10,label:null,anchor:"bottom",fontSize:FS}),
        Plot.text(["Distance (km)"],{frameAnchor:"bottom",dy:33,fontSize:12.5,textAnchor:"middle"})]:[]),
      Plot.text([title],{frameAnchor:"top",lineAnchor:"bottom",dy:-5,fontSize:15}),
      Plot.text(["Height (km)"],{frameAnchor:"left",rotate:-90,dx:-32,fontSize:12.5,textAnchor:"middle"})
    ]});
  place(svg,left,top-mt);
}
function colorbar({left,top,height,color,ticks,labels,label,labelDx,barWidth=9}){
  const mt=10,mb=10,[a,b]=color.domain,n=256;
  const logScale=color.type==="log";
  const at=f=>logScale?Math.pow(10,Math.log10(a)+f*(Math.log10(b)-Math.log10(a))):a+f*(b-a);
  const levels=d3.range(n).map(i=>({y1:at(i/n),y2:at((i+1)/n),v:at((i+.5)/n)}));
  const svg=Plot.plot({width:barWidth+60,height:height+mt+mb,marginLeft:0,marginRight:60,marginTop:mt,marginBottom:mb,
    style:{fontFamily:'"DejaVu Sans"',fontSize:FS+"px",color:"#000",background:"transparent",overflow:"visible"},
    x:{domain:[0,1],axis:null},y:{type:color.type,domain:[a,b],axis:null,label:null},color,
    marks:[Plot.rect(levels,{x1:0,x2:1,y1:"y1",y2:"y2",fill:"v",shapeRendering:"crispEdges"}),
      Plot.frame({stroke:"#000"}),
      Plot.axisY({ticks,tickSize:-3,tickPadding:8,anchor:"right",label:null,fontSize:FS,textAnchor:"start",
        tickFormat:d=>labels[ticks.indexOf(d)]}),
      Plot.text([label],{frameAnchor:"right",rotate:-90,dx:labelDx,fontSize:12.5,textAnchor:"middle"})]});
  place(svg,left,top-mt);
}
const flatRows=rows=>rows.map(r=>r.padEnd(40,r[r.length-1]).slice(0,40)).join("").split("").map(Number);
function layerMarks(upper,lower,color){
  const [a,b]=color.domain.map(Math.log10);
  const val=d=>Math.pow(10,a+(d/10)*(b-a));
  const lowRows=lower.map((d,i)=>({y1:.6+i*.1,y2:.6+(i+1)*.1,v:val(d)}));
  return [
    Plot.rect(lowRows,{x1:0,x2:40,y1:"y1",y2:"y2",fill:"v",shapeRendering:"crispEdges"}),
    Plot.raster(flatRows(upper).map(val),{width:40,height:8,x1:0,x2:40,y1:3.8,y2:2.2}),
    Plot.rect(baseBumps,{x1:d=>d[0],x2:d=>d[1],y1:.5,y2:.62,fill:()=>val(lower[0]),shapeRendering:"crispEdges"}),
    Plot.rect(topNotches,{x1:d=>d[0],x2:d=>d[1],y1:d=>d[2],y2:3.85,fill:"#fff",shapeRendering:"crispEdges"}),
    Plot.rect(specks,{x1:d=>d[0],x2:d=>d[0]+.15,y1:d=>d[1],y2:d=>d[1]+.1,fill:"#fff",shapeRendering:"crispEdges"})
  ];
}
const cell=(list,v)=>Plot.rect(list,{x1:d=>d[0]-.12,x2:d=>d[0]+.12,y1:d=>d[1]-.09,y2:d=>d[1]+.09,fill:()=>v,shapeRendering:"crispEdges"});
const contactRows=[[3.7,contact37],[3.5,contact35],[3.3,contact33],[3.1,contact31],[2.9,contact29],[2.7,contact27],[2.5,contact25]]
  .flatMap(([y,runs])=>runs.map(r=>({x1:r[0],x2:r[1],y1:y-.09,y2:y+.09,v:r[2]})));
const levelRule=l=>Plot.ruleY(l,{stroke:"#000",strokeWidth:1,strokeDasharray:"6,5"});
const flatLines=(ls)=>ls.flatMap((pts,i)=>pts.map(p=>({x:p[0],y:p[1],i})));
const radVal=t=>Math.pow(10,-6+t);

// ---------- left column ----------
const LX=0,RX=691;
panel({left:LX,top:53,title:"Homogeneous",color:concColor});
panel({left:LX,top:257,title:"Deposition",color:concColor,marks:[levelRule(depositionLevels)]});
panel({left:LX,top:461,title:"Immersion",color:concColor,marks:[
  levelRule(immersionLevels),
  cell(immersionLime,3000),cell(immersionYellow,8000),cell(immersionGold,16000),cell(immersionOrange,35000),cell(immersionRed,90000),cell(immersionDeepRed,250000)]});
panel({left:LX,top:665,title:"Contact",color:concColor,xAxis:true,marks:[
  levelRule(contactLevels),
  Plot.rect(contactRows,{x1:"x1",x2:"x2",y1:"y1",y2:"y2",fill:"v",shapeRendering:"crispEdges"})]});
colorbar({left:595,top:250,height:390,color:concColor,ticks:concTicks,labels:concLabels,label:"Concentration (m⁻³ )",labelDx:39,barWidth:8});

// ---------- right column ----------
panel({left:RX,top:53,title:"Cloud liquid water content",color:lwcColor,marks:layerMarks(lwcUpper,lwcLower,lwcColor)});
panel({left:RX,top:257,title:"Cloud droplet number concentration",color:numColor,marks:layerMarks(numUpper,numLower,numColor)});
panel({left:RX,top:461,title:"Mean cloud droplet radius",color:radColor,marks:[...layerMarks(radUpper,radLower,radColor),
  Plot.rect(radiusHot,{x1:d=>d[0],x2:d=>d[1],y1:d=>d[2],y2:d=>d[3],fill:d=>radVal(d[4]),shapeRendering:"crispEdges"})]});
panel({left:RX,top:665,title:"Relative humidity",color:rhColor,xAxis:true,marks:[
  Plot.rect(rhLayers,{x1:0,x2:40,y1:d=>d[0],y2:d=>d[1],fill:d=>d[2],shapeRendering:"crispEdges"}),
  Plot.rect(rhTopPatches,{x1:d=>d[0],x2:d=>d[1],y1:6.1,y2:6.3,fill:()=>72,shapeRendering:"crispEdges"}),
  Plot.rect(rhTopLightPatches,{x1:d=>d[0],x2:d=>d[1],y1:6.1,y2:6.2,fill:()=>68,shapeRendering:"crispEdges"}),
  Plot.rect(rhBaseGaps,{x1:d=>d[0],x2:d=>d[1],y1:.55,y2:.72,fill:"#fff",shapeRendering:"crispEdges"}),
  Plot.line(flatLines(contourOpen),{x:"x",y:"y",z:"i",stroke:"#000",strokeWidth:1,curve:"catmull-rom",clip:"frame"}),
  Plot.line(flatLines(contourDashed),{x:"x",y:"y",z:"i",stroke:"#000",strokeWidth:1,strokeDasharray:"5,4",curve:"catmull-rom",clip:"frame"}),
  Plot.line(flatLines(contourLoops),{x:"x",y:"y",z:"i",stroke:"#000",strokeWidth:1,curve:"catmull-rom-closed",clip:"frame"}),
  Plot.line(flatLines(contourBase),{x:"x",y:"y",z:"i",stroke:"#000",strokeWidth:1,curve:"catmull-rom",clip:"frame"})]});
colorbar({left:1281,top:54,height:169,color:lwcColor,ticks:lwcTicks,labels:lwcLabels,label:"(kg/kg)",labelDx:39});
colorbar({left:1281,top:258,height:169,color:numColor,ticks:numTicks,labels:numLabels,label:"(m⁻³ )",labelDx:38});
colorbar({left:1281,top:462,height:169,color:radColor,ticks:radTicks,labels:radLabels,label:"(m)",labelDx:38});
colorbar({left:1281,top:666,height:169,color:rhColor,ticks:rhTicks,labels:rhTicks.map(String),label:"(%)",labelDx:36});
tag("(a)",134);tag("(b)",817);
</script></body></html>
